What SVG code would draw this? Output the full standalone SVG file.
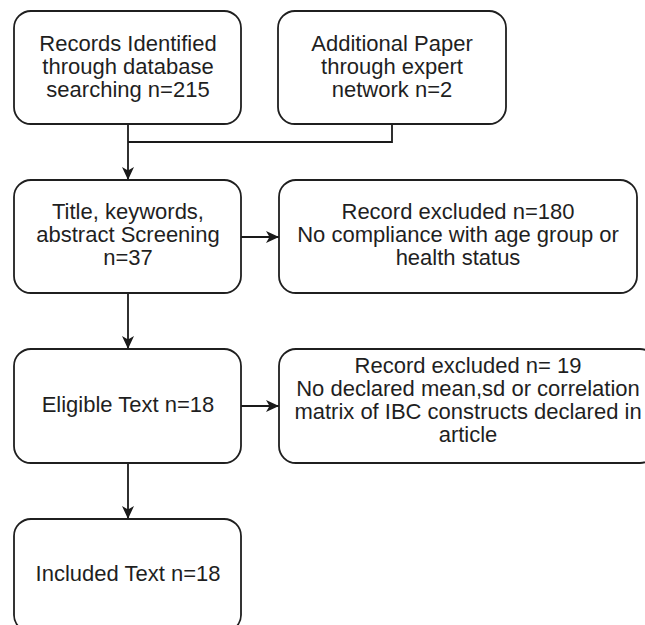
<svg xmlns="http://www.w3.org/2000/svg" width="645" height="625" viewBox="0 0 645 625">
<defs>
<style>
.box{fill:#fff;stroke:#1f1f1f;stroke-width:1.8}
.t{font-family:"Liberation Sans",Arial,sans-serif;font-size:22px;fill:#1f1f1f;text-anchor:middle}
.c{fill:none;stroke:#1a1a1a;stroke-width:1.8}
</style>
<marker id="ah" markerUnits="userSpaceOnUse" markerWidth="14" markerHeight="14" viewBox="0 0 14 14" refX="13" refY="7" orient="auto">
<path d="M0,1 L13,7 L0,13 L3.5,7 Z" fill="#1a1a1a"/>
</marker>
</defs>
<rect width="645" height="625" fill="#fff"/>
<g id="connectors">
<path class="c" d="M128,124 L128,180" marker-end="url(#ah)"/>
<path class="c" d="M392,124 L392,142 L128,142"/>
<path class="c" d="M241,237 L279,237" marker-end="url(#ah)"/>
<path class="c" d="M128,293 L128,349" marker-end="url(#ah)"/>
<path class="c" d="M241,406 L279,406" marker-end="url(#ah)"/>
<path class="c" d="M128,463 L128,519" marker-end="url(#ah)"/>
</g>
<g id="records">
<rect class="box" x="14" y="11" width="227" height="113" rx="17"/>
<text class="t" x="128"><tspan x="128" y="51">Records Identified</tspan><tspan x="128" y="74">through database</tspan><tspan x="128" y="97">searching n=215</tspan></text>
</g>
<g id="additional">
<rect class="box" x="278" y="11" width="228" height="113" rx="17"/>
<text class="t" x="392"><tspan x="392" y="51">Additional Paper</tspan><tspan x="392" y="74">through expert</tspan><tspan x="392" y="97">network n=2</tspan></text>
</g>
<g id="screening">
<rect class="box" x="14" y="180" width="227" height="113" rx="17"/>
<text class="t" x="128"><tspan x="128" y="219">Title, keywords,</tspan><tspan x="128" y="242">abstract Screening</tspan><tspan x="128" y="265">n=37</tspan></text>
</g>
<g id="excluded1">
<rect class="box" x="279" y="180" width="358" height="113" rx="17"/>
<text class="t" x="458"><tspan x="458" y="219">Record excluded n=180</tspan><tspan x="458" y="242">No compliance with age group or</tspan><tspan x="458" y="265">health status</tspan></text>
</g>
<g id="eligible">
<rect class="box" x="14" y="349" width="227" height="114" rx="17"/>
<text class="t" x="128" y="412">Eligible Text n=18</text>
</g>
<g id="excluded2">
<rect class="box" x="279" y="349" width="378" height="114" rx="17"/>
<text class="t" x="468"><tspan x="468" y="373">Record excluded n= 19</tspan><tspan x="468" y="396">No declared mean,sd or correlation</tspan><tspan x="468" y="419">matrix of IBC constructs declared in</tspan><tspan x="468" y="442">article</tspan></text>
</g>
<g id="included">
<rect class="box" x="14" y="519" width="227" height="113" rx="17"/>
<text class="t" x="128" y="581">Included Text n=18</text>
</g>
</svg>
